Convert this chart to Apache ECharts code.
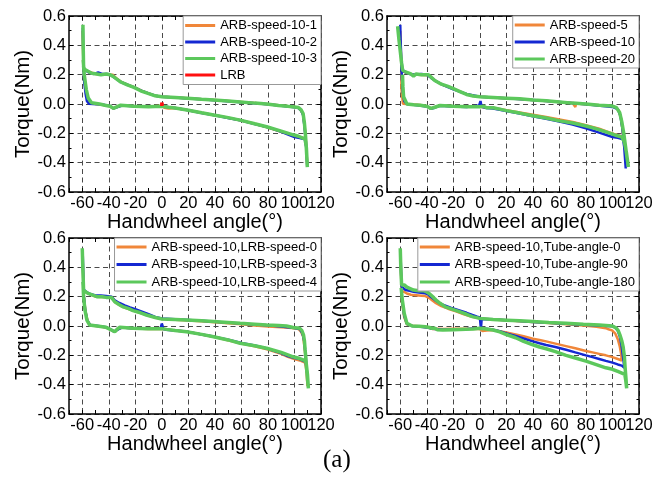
<!DOCTYPE html>
<html>
<head>
<meta charset="utf-8">
<script src="https://cdn.jsdelivr.net/npm/echarts@6/dist/echarts.min.js"></script>
<style>
html,body{margin:0;padding:0;background:#fff;}
#c{width:666px;height:480px;}
</style>
</head>
<body>
<div id="c"></div>
<script>
// ---------- data (angle in degrees, torque in Nm) ----------
const p1Names = ['ARB-speed-10-1', 'ARB-speed-10-2', 'ARB-speed-10-3', 'LRB'];
const p2Names = ['ARB-speed-5', 'ARB-speed-10', 'ARB-speed-20'];
const p3Names = ['ARB-speed-10,LRB-speed-0', 'ARB-speed-10,LRB-speed-3', 'ARB-speed-10,LRB-speed-4'];
const p4Names = ['ARB-speed-10,Tube-angle-0', 'ARB-speed-10,Tube-angle-90', 'ARB-speed-10,Tube-angle-180'];

const p1Orange = [[-59.8,0.5],[-59.4,0.36],[-59,0.25],[-58,0.235],[-55,0.22],[-50,0.205],[-45,0.2],[-40,0.2],[-37,0.2],[-35,0.18],[-31,0.152],[-26,0.132],[-21,0.115],[-15,0.09],[-10,0.072],[-5,0.057],[0,0.05],[10,0.045],[20,0.039],[30,0.033],[40,0.027],[50,0.02],[60,0.013],[70,0.006],[80,-0.001],[90,-0.01],[100,-0.02],[103,-0.026],[105,-0.045],[106.5,-0.07],[107.5,-0.14],[108.3,-0.21],[109,-0.3],[109.6,-0.42],[108.8,-0.28],[107.8,-0.235],[104,-0.225],[100,-0.215],[90,-0.19],[80,-0.16],[70,-0.135],[60,-0.112],[50,-0.094],[40,-0.076],[30,-0.06],[20,-0.043],[10,-0.028],[5,-0.03],[2,-0.025],[0,-0.012],[-10,-0.017],[-20,-0.015],[-30,-0.009],[-34,-0.02],[-36.5,-0.03],[-39,-0.016],[-45,-0.006],[-50,0.0],[-54,0.008],[-56,0.04],[-57.5,0.1],[-58.7,0.2],[-59.4,0.3]];
const p1Blue = [[-59.6,0.52],[-59.3,0.38],[-59,0.25],[-58,0.23],[-55,0.215],[-51,0.205],[-48,0.215],[-45,0.205],[-41,0.205],[-38,0.195],[-35,0.175],[-31,0.15],[-25,0.128],[-20,0.11],[-14,0.085],[-10,0.072],[-5,0.056],[0,0.05],[10,0.044],[20,0.038],[30,0.032],[40,0.026],[50,0.019],[60,0.012],[70,0.005],[80,-0.002],[90,-0.012],[100,-0.022],[103,-0.028],[105,-0.045],[106.5,-0.075],[107.5,-0.15],[108.3,-0.22],[109,-0.31],[109.6,-0.42],[108.8,-0.29],[107.8,-0.24],[104,-0.232],[100,-0.225],[90,-0.19],[80,-0.158],[70,-0.137],[60,-0.112],[50,-0.095],[40,-0.077],[30,-0.062],[20,-0.042],[10,-0.028],[0,-0.016],[-10,-0.019],[-20,-0.016],[-30,-0.01],[-34,-0.022],[-36.5,-0.03],[-39,-0.014],[-45,-0.004],[-52,0.0],[-55,0.002],[-56.5,0.02],[-57.5,0.07],[-58.5,0.15],[-59.2,0.28]];
const p1Green = [[-59.5,0.54],[-59.3,0.40],[-59,0.25],[-58,0.235],[-56.5,0.225],[-53,0.21],[-49,0.205],[-46,0.2],[-42,0.205],[-39,0.2],[-37,0.19],[-34,0.17],[-31,0.15],[-26,0.13],[-21,0.113],[-16,0.09],[-11,0.074],[-5,0.056],[0,0.05],[10,0.045],[19,0.04],[30,0.032],[39,0.027],[50,0.02],[59,0.014],[70,0.006],[79,0.0],[88,-0.01],[95,-0.016],[100,-0.02],[103,-0.024],[105,-0.04],[106.5,-0.065],[107.5,-0.13],[108.2,-0.2],[108.8,-0.28],[109.3,-0.36],[109.7,-0.43],[109,-0.3],[108,-0.24],[107,-0.232],[103,-0.22],[99,-0.21],[90,-0.185],[79,-0.155],[70,-0.135],[59,-0.11],[50,-0.093],[39,-0.075],[30,-0.06],[19,-0.041],[10,-0.027],[5,-0.022],[0,-0.015],[-10,-0.018],[-21,-0.015],[-31,-0.008],[-34,-0.02],[-36.5,-0.03],[-39,-0.015],[-43,-0.008],[-47,0.0],[-53,0.008],[-55.5,0.04],[-57,0.1],[-58.5,0.2],[-59.3,0.3]];
const p1Red = [[0,-0.013],[0,0.01],[0.4,0.008],[0.4,-0.01]];

const p2Orange = [[-60,0.5],[-59.6,0.38],[-59.2,0.26],[-58.5,0.225],[-55,0.212],[-51,0.2],[-47,0.2],[-43,0.198],[-39,0.196],[-36.5,0.18],[-33,0.155],[-28,0.13],[-22,0.112],[-16,0.09],[-10,0.066],[-5,0.055],[0,0.049],[10,0.044],[20,0.039],[30,0.034],[40,0.027],[50,0.021],[60,0.013],[70,0.006],[71.5,-0.001],[72,-0.02],[72.5,0.003],[80,-0.002],[90,-0.008],[100,-0.015],[103,-0.025],[105,-0.05],[106.5,-0.1],[107.5,-0.17],[108,-0.22],[106,-0.218],[103,-0.21],[100,-0.2],[95,-0.185],[90,-0.168],[80,-0.145],[70,-0.122],[60,-0.105],[50,-0.088],[40,-0.073],[30,-0.058],[20,-0.043],[10,-0.026],[5,-0.024],[0,-0.018],[-10,-0.018],[-20,-0.015],[-30,-0.011],[-34,-0.022],[-37,-0.03],[-40,-0.016],[-45,-0.007],[-50,-0.003],[-55,0.0],[-58,0.002],[-59,0.01],[-59.1,0.1],[-59.2,0.22]];
const p2Blue = [[-60,0.54],[-59.8,0.45],[-59.3,0.32],[-58.5,0.24],[-57,0.22],[-53,0.205],[-49,0.2],[-44,0.205],[-40,0.2],[-37,0.18],[-33,0.155],[-28,0.13],[-20,0.1],[-10,0.068],[0,0.05],[20,0.04],[40,0.028],[60,0.013],[80,-0.002],[100,-0.02],[104,-0.035],[106,-0.08],[107.5,-0.17],[108.5,-0.25],[109.3,-0.35],[110,-0.44],[109,-0.3],[108,-0.24],[104,-0.23],[100,-0.225],[90,-0.195],[80,-0.165],[70,-0.14],[60,-0.12],[50,-0.1],[40,-0.083],[30,-0.065],[20,-0.048],[10,-0.03],[5,-0.028],[2,-0.02],[1,-0.005],[0.5,0.02],[0,0.015],[-0.5,-0.01],[-10,-0.02],[-20,-0.017],[-30,-0.012],[-34,-0.025],[-37,-0.032],[-40,-0.017],[-50,-0.006],[-55,0.0],[-57,0.02],[-58,0.08],[-58.8,0.18],[-59.3,0.3]];
const p2Green = [[-62,0.53],[-61,0.44],[-60,0.36],[-59,0.28],[-58.2,0.23],[-55,0.215],[-52,0.205],[-50,0.19],[-48,0.205],[-44,0.2],[-39,0.2],[-37,0.185],[-34,0.16],[-29,0.135],[-24,0.12],[-20,0.105],[-15,0.085],[-10,0.065],[-5,0.055],[0,0.05],[10,0.045],[20,0.04],[30,0.035],[40,0.028],[50,0.022],[60,0.014],[70,0.006],[80,0.0],[90,-0.008],[100,-0.014],[103,-0.025],[105.5,-0.06],[107,-0.12],[108.5,-0.2],[110,-0.3],[111,-0.37],[112,-0.43],[110.5,-0.33],[109,-0.26],[107,-0.225],[103,-0.215],[100,-0.205],[95,-0.19],[88,-0.17],[80,-0.15],[70,-0.13],[60,-0.115],[50,-0.095],[40,-0.08],[30,-0.062],[20,-0.045],[15,-0.035],[10,-0.025],[5,-0.025],[3,-0.015],[0,-0.018],[-10,-0.018],[-20,-0.015],[-30,-0.01],[-34,-0.022],[-37,-0.03],[-40,-0.015],[-45,-0.008],[-50,-0.005],[-55,0.0],[-56.5,0.01],[-57.5,0.05],[-58,0.12],[-58.3,0.2]];

const p3Orange = [[-59.8,0.5],[-59.4,0.36],[-59,0.24],[-57,0.228],[-54,0.215],[-50,0.2],[-45,0.198],[-40,0.196],[-37.5,0.19],[-35,0.16],[-30,0.132],[-25,0.115],[-20,0.1],[-15,0.085],[-10,0.072],[-5,0.057],[0,0.048],[10,0.043],[20,0.038],[30,0.032],[40,0.026],[50,0.019],[60,0.012],[70,0.004],[80,-0.003],[90,-0.009],[98,-0.014],[103,-0.02],[105,-0.04],[106.5,-0.07],[107.5,-0.14],[108.3,-0.21],[109,-0.3],[109.8,-0.41],[109,-0.3],[108,-0.25],[104,-0.235],[100,-0.225],[95,-0.21],[90,-0.19],[80,-0.16],[70,-0.138],[60,-0.12],[50,-0.097],[40,-0.075],[30,-0.058],[20,-0.04],[10,-0.03],[0,-0.019],[-10,-0.02],[-20,-0.017],[-30,-0.011],[-33.5,-0.022],[-35.5,-0.04],[-38,-0.028],[-42,-0.01],[-48,-0.002],[-54,0.005],[-56,0.035],[-57.6,0.1],[-58.8,0.2],[-59.4,0.3]];
const p3Blue = [[-59.7,0.51],[-59.3,0.37],[-59,0.25],[-57,0.232],[-54,0.218],[-50,0.208],[-46,0.208],[-42,0.205],[-38,0.2],[-35.5,0.175],[-32,0.157],[-28,0.14],[-24,0.127],[-20,0.115],[-15,0.098],[-10,0.08],[-5,0.062],[0,0.052],[10,0.046],[20,0.041],[30,0.035],[40,0.029],[50,0.023],[60,0.017],[70,0.011],[80,0.005],[90,-0.003],[100,-0.013],[104,-0.02],[106,-0.05],[107.3,-0.1],[108.2,-0.18],[109,-0.27],[109.5,-0.32],[108.5,-0.245],[107,-0.232],[103,-0.222],[100,-0.218],[95,-0.205],[90,-0.185],[80,-0.155],[70,-0.133],[60,-0.116],[50,-0.093],[40,-0.074],[30,-0.058],[20,-0.04],[10,-0.031],[3,-0.025],[1,-0.02],[0.5,0.002],[0,0.016],[-0.5,0.0],[-1,-0.018],[-10,-0.019],[-20,-0.017],[-30,-0.01],[-34,-0.028],[-36,-0.04],[-38,-0.026],[-42,-0.008],[-48,0.0],[-54,0.006],[-56.3,0.04],[-57.8,0.11],[-58.8,0.2],[-59.4,0.3]];
const p3Green = [[-60,0.53],[-59.6,0.4],[-59,0.245],[-57.5,0.232],[-55.7,0.223],[-52,0.21],[-49,0.2],[-45,0.2],[-42,0.195],[-38,0.195],[-35.5,0.165],[-32,0.145],[-29,0.13],[-25,0.118],[-21.7,0.105],[-16,0.09],[-11.6,0.075],[-5,0.058],[0,0.048],[10,0.045],[18.6,0.041],[30,0.035],[39,0.03],[50,0.024],[59,0.018],[70,0.012],[79,0.007],[88,0.003],[94,0.0],[99,-0.01],[104,-0.016],[105.5,-0.03],[106.8,-0.06],[107.5,-0.1],[108,-0.16],[108.6,-0.22],[109,-0.28],[109.8,-0.36],[110.5,-0.425],[109.8,-0.33],[108.8,-0.25],[107.5,-0.235],[104,-0.222],[99,-0.21],[90,-0.18],[79,-0.152],[70,-0.135],[59,-0.118],[50,-0.095],[39,-0.073],[30,-0.057],[18.6,-0.039],[10,-0.03],[3.5,-0.023],[0,-0.018],[-11,-0.018],[-21.7,-0.016],[-31.7,-0.009],[-33.5,-0.02],[-35.5,-0.039],[-38,-0.027],[-42,-0.009],[-49,0.0],[-54.5,0.007],[-56.5,0.04],[-58,0.11],[-59,0.2],[-59.5,0.3]];

const p4Orange = [[-59.8,0.48],[-59.4,0.35],[-59,0.24],[-57,0.232],[-55,0.222],[-52,0.213],[-48,0.21],[-44,0.207],[-41,0.204],[-38,0.19],[-36,0.175],[-33,0.155],[-29,0.135],[-24,0.118],[-18,0.1],[-12,0.08],[-6,0.063],[0,0.052],[10,0.045],[20,0.039],[30,0.033],[40,0.027],[52,0.02],[65,0.012],[78,0.004],[88,-0.005],[95,-0.015],[97,-0.022],[99.7,-0.03],[102,-0.05],[104,-0.09],[105.5,-0.14],[106.5,-0.19],[107,-0.235],[104,-0.225],[100,-0.212],[95,-0.2],[90,-0.19],[85,-0.18],[80,-0.17],[72,-0.152],[65,-0.137],[57,-0.12],[50,-0.105],[45,-0.095],[40,-0.087],[33,-0.07],[27,-0.057],[20,-0.044],[15,-0.035],[10,-0.028],[5,-0.03],[2,-0.034],[0,-0.02],[-10,-0.018],[-20,-0.018],[-28,-0.02],[-33,-0.018],[-36,-0.02],[-40,-0.008],[-46,-0.001],[-51,0.002],[-55,0.012],[-57,0.06],[-58.5,0.15],[-59.3,0.24]];
const p4Blue = [[-59.8,0.5],[-59.4,0.37],[-59,0.268],[-57.5,0.26],[-56,0.245],[-53,0.24],[-50,0.234],[-46,0.228],[-41,0.223],[-39,0.215],[-37,0.2],[-34,0.178],[-31,0.16],[-28,0.145],[-22,0.125],[-16,0.108],[-10,0.09],[-5.6,0.075],[-2,0.064],[0,0.058],[0.6,0.045],[0.8,-0.016],[1.4,0.048],[10,0.046],[20,0.04],[30,0.034],[40,0.028],[52,0.022],[65,0.015],[78,0.009],[90,0.004],[100,-0.002],[102,-0.01],[104,-0.03],[105.5,-0.07],[106.8,-0.13],[107.8,-0.2],[108.5,-0.25],[109,-0.285],[107,-0.27],[104,-0.262],[100,-0.25],[95,-0.238],[90,-0.225],[85,-0.212],[80,-0.2],[72,-0.18],[65,-0.162],[57,-0.143],[50,-0.13],[45,-0.118],[40,-0.105],[33,-0.085],[27,-0.068],[20,-0.05],[15,-0.036],[10,-0.025],[5,-0.018],[0,-0.016],[-10,-0.021],[-20,-0.023],[-28,-0.025],[-33,-0.02],[-36,-0.018],[-40,-0.01],[-46,-0.004],[-51,0.0],[-55,0.015],[-57,0.07],[-58.5,0.17],[-59.3,0.25]];
const p4Green = [[-60,0.53],[-59.6,0.4],[-59,0.28],[-57,0.28],[-55,0.265],[-53,0.257],[-50,0.245],[-46,0.24],[-42,0.24],[-40,0.232],[-38,0.22],[-35,0.195],[-33,0.177],[-30,0.155],[-26,0.13],[-21,0.115],[-16,0.1],[-10,0.08],[-5.6,0.064],[0,0.052],[10,0.045],[20,0.04],[30,0.035],[40,0.03],[52,0.024],[65,0.018],[78,0.012],[90,0.007],[100,0.0],[103,-0.016],[104.5,-0.035],[105.6,-0.06],[107,-0.1],[108,-0.14],[109,-0.21],[109.5,-0.28],[110.2,-0.36],[110.7,-0.425],[110,-0.37],[109.3,-0.33],[108,-0.32],[104,-0.31],[100,-0.295],[95,-0.285],[90,-0.27],[85,-0.255],[80,-0.24],[72,-0.218],[65,-0.2],[57,-0.175],[50,-0.155],[45,-0.143],[40,-0.128],[33,-0.105],[27,-0.08],[20,-0.058],[15,-0.04],[10,-0.027],[5,-0.02],[0,-0.016],[-5,-0.02],[-10.6,-0.023],[-20,-0.025],[-28,-0.027],[-32,-0.025],[-34,-0.015],[-36,-0.016],[-38,-0.01],[-41,-0.005],[-46,-0.002],[-51,0.0],[-55,0.018],[-57,0.086],[-58.5,0.18],[-59.3,0.26]];

// ---------- styling ----------
const FONT = 'Liberation Sans';
const ORANGE = '#F0873A', BLUE = '#1428D2', GREEN = '#5CC85C', RED = '#FF1010';
const X_TITLE = 'Handwheel angle(°)', Y_TITLE = 'Torque(Nm)';

const grids = [
  {left: 69, top: 16, width: 252, height: 176},
  {left: 387, top: 16, width: 252, height: 176},
  {left: 69, top: 238, width: 252, height: 176},
  {left: 387, top: 238, width: 252, height: 176}
];

const xAxes = [], yAxes = [];
grids.forEach((g, gi) => {
  xAxes.push({
    type: 'value', gridIndex: gi, min: -70, max: 120, interval: 10, position: 'bottom',
    axisLine: {show: true, onZero: false, lineStyle: {color: '#000', width: 1.5}},
    axisTick: {show: true, inside: true, length: 4, lineStyle: {color: '#000', width: 1}},
    axisLabel: {show: true, margin: 3, color: '#000', fontSize: 16.5, fontFamily: FONT,
      formatter: v => (Math.round(v) % 20 === 0 ? String(Math.round(v)) : '')},
    splitLine: {show: true, lineStyle: {color: ['rgba(0,0,0,0)', '#4a4a4a'], type: [5, 3.5], width: 1}},
    name: X_TITLE, nameLocation: 'middle', nameGap: 8,
    nameTextStyle: {color: '#000', fontSize: 20, fontFamily: FONT}
  });
  xAxes.push({
    type: 'value', gridIndex: gi, min: -70, max: 120, interval: 10, position: 'top',
    axisLine: {show: true, onZero: false, lineStyle: {color: '#000', width: 1.5}},
    axisTick: {show: true, inside: true, length: 4, lineStyle: {color: '#000', width: 1}},
    axisLabel: {show: false}, splitLine: {show: false}
  });
  yAxes.push({
    type: 'value', gridIndex: gi, min: -0.6, max: 0.6, interval: 0.2, position: 'left',
    axisLine: {show: true, onZero: false, lineStyle: {color: '#000', width: 1.5}},
    axisTick: {show: true, inside: true, length: 4, lineStyle: {color: '#000', width: 1}},
    minorTick: {show: true, splitNumber: 2, length: 2.5, lineStyle: {color: '#000', width: 1}},
    axisLabel: {show: true, margin: 3, color: '#000', fontSize: 16.5, fontFamily: FONT,
      formatter: v => (Math.abs(v) < 1e-9 ? '0.0' : v.toFixed(1))},
    splitLine: {show: true, lineStyle: {color: '#4a4a4a', type: [5, 3.5], width: 1}},
    name: Y_TITLE, nameLocation: 'middle', nameGap: 34,
    nameTextStyle: {color: '#000', fontSize: 20.5, fontFamily: FONT}
  });
  yAxes.push({
    type: 'value', gridIndex: gi, min: -0.6, max: 0.6, interval: 0.2, position: 'right',
    axisLine: {show: true, onZero: false, lineStyle: {color: '#000', width: 1.5}},
    axisTick: {show: true, inside: true, length: 4, lineStyle: {color: '#000', width: 1}},
    minorTick: {show: true, splitNumber: 2, length: 2.5, lineStyle: {color: '#000', width: 1}},
    axisLabel: {show: false}, splitLine: {show: false}
  });
});

function line(name, data, gi, color, width) {
  return {
    type: 'line', name: name, data: data, xAxisIndex: 2 * gi, yAxisIndex: 2 * gi,
    showSymbol: false, symbol: 'none', color: color,
    lineStyle: {color: color, width: width}, animation: false, z: 2
  };
}

const series = [
  line(p1Names[0], p1Orange, 0, ORANGE, 2.5),
  line(p1Names[1], p1Blue, 0, BLUE, 2.5),
  line(p1Names[2], p1Green, 0, GREEN, 3.5),
  line(p1Names[3], p1Red, 0, RED, 3.5),
  line(p2Names[0], p2Orange, 1, ORANGE, 2.5),
  line(p2Names[1], p2Blue, 1, BLUE, 2.5),
  line(p2Names[2], p2Green, 1, GREEN, 3.5),
  line(p3Names[0], p3Orange, 2, ORANGE, 2.5),
  line(p3Names[1], p3Blue, 2, BLUE, 2.5),
  line(p3Names[2], p3Green, 2, GREEN, 3.5),
  line(p4Names[0], p4Orange, 3, ORANGE, 2.5),
  line(p4Names[1], p4Blue, 3, BLUE, 2.5),
  line(p4Names[2], p4Green, 3, GREEN, 3.5)
];

function legend(names, right, top, pad, gap) {
  return {
    type: 'plain', orient: 'vertical', right: right, top: top, data: names,
    icon: 'rect', itemWidth: 30, itemHeight: 3, itemGap: gap, padding: pad,
    borderColor: '#999', borderWidth: 1, backgroundColor: '#fff', selectedMode: false,
    textStyle: {color: '#000', fontSize: 13, fontFamily: FONT}
  };
}

const chart = echarts.init(document.getElementById('c'), null, {renderer: 'canvas'});
chart.setOption({
  backgroundColor: '#fff',
  animation: false,
  title: {text: '(a)', left: 323, top: 448, padding: 0,
    textStyle: {fontFamily: 'Liberation Serif', fontSize: 25, fontWeight: 'normal', color: '#000'}},
  grid: grids.map(g => Object.assign({outerBoundsMode: 'none'}, g)),
  xAxis: xAxes,
  yAxis: yAxes,
  legend: [
    legend(p1Names, 345, 16, [3, 4, 3, 2], 3.5),
    legend(p2Names, 27, 16, [2.5, 4, 2.5, 2], 4),
    legend(p3Names, 345, 238, [2.5, 4, 2.5, 2], 4.5),
    legend(p4Names, 27, 238, [2.5, 4, 2.5, 2], 4.5)
  ],
  series: series
});
</script>
</body>
</html>
